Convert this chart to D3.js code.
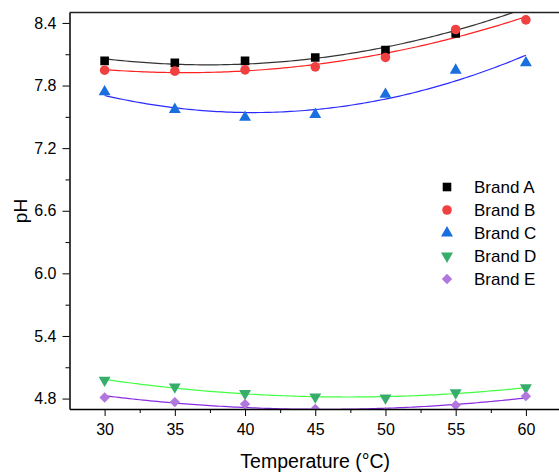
<!DOCTYPE html>
<meta charset="utf-8">
<head>
  <title>pH vs temperature</title>
  <script src="https://cdn.jsdelivr.net/npm/d3@7/dist/d3.min.js"></script>
  <style>
    body { margin: 0; background: #fff; }
    svg { display: block; font-family: "Liberation Sans", Arial, sans-serif; }
    .axis path, .axis line { stroke: #000; }
    .axis text { font-size: 16px; fill: #000; }
    .fit { fill: none; stroke-width: 1.2px; }
  </style>
</head>
<body>
<svg width="559" height="472"></svg>
<script>
  // temperatures (°C)
  var temps = [30, 35, 40, 45, 50, 55, 60];
  // pH readings per brand
  var brandA = [8.036, 8.017, 8.036, 8.069, 8.139, 8.299, 8.57];
  var brandB = [7.947, 7.938, 7.95, 7.979, 8.069, 8.337, 8.429];
  var brandC = [7.74, 7.571, 7.495, 7.523, 7.715, 7.947, 8.017];
  var brandD = [4.976, 4.912, 4.848, 4.816, 4.807, 4.855, 4.905];
  var brandE = [4.81, 4.766, 4.747, 4.70, 4.67, 4.737, 4.823];
  var xTicks = [30, 35, 40, 45, 50, 55, 60];
  var yTicks = [4.8, 5.4, 6.0, 6.6, 7.2, 7.8, 8.4];

  var series = [
    { name: "Brand A", values: brandA, color: "#000000", line: "#333333", shape: d3.symbolSquare, size: 74 },
    { name: "Brand B", values: brandB, color: "#f14040", line: "#ff2020", shape: d3.symbolCircle, size: 72 },
    { name: "Brand C", values: brandC, color: "#1a6fdf", line: "#2a2aff", shape: d3.symbolTriangle, size: 62 },
    { name: "Brand D", values: brandD, color: "#37ad6b", line: "#40ff40", shape: d3.symbolTriangle, size: 62, rot: 180 },
    { name: "Brand E", values: brandE, color: "#b177de", line: "#8a2be2", shape: d3.symbolSquare, size: 54, rot: 45 }
  ];

  var svg = d3.select("svg");
  var pLeft = 69.5, pRight = 561, pTop = 12.5, pBottom = 409;

  var x = d3.scaleLinear().domain([27.5, 62.5]).range([pLeft, pRight]);
  var y = d3.scaleLinear().domain([4.7, 8.5]).range([pBottom, pTop]);

  svg.append("clipPath").attr("id", "plot")
    .append("rect").attr("x", pLeft).attr("y", pTop)
    .attr("width", pRight - pLeft).attr("height", pBottom - pTop);

  // quadratic least squares fit
  function quadFit(xs, ys) {
    var s = [0, 0, 0, 0, 0], t = [0, 0, 0];
    xs.forEach(function(xv, i) {
      for (var k = 0; k < 5; k++) s[k] += Math.pow(xv, k);
      for (var k = 0; k < 3; k++) t[k] += Math.pow(xv, k) * ys[i];
    });
    var m = [[s[0], s[1], s[2], t[0]], [s[1], s[2], s[3], t[1]], [s[2], s[3], s[4], t[2]]];
    for (var i = 0; i < 3; i++) {
      for (var j = i + 1; j < 3; j++) {
        var f = m[j][i] / m[i][i];
        for (var k = i; k < 4; k++) m[j][k] -= f * m[i][k];
      }
    }
    var c = [0, 0, 0];
    for (var i = 2; i >= 0; i--) {
      var v = m[i][3];
      for (var k = i + 1; k < 3; k++) v -= m[i][k] * c[k];
      c[i] = v / m[i][i];
    }
    return function(xv) { return c[0] + c[1] * xv + c[2] * xv * xv; };
  }

  var plot = svg.append("g").attr("clip-path", "url(#plot)");
  var line = d3.line().x(function(d) { return x(d[0]); }).y(function(d) { return y(d[1]); });
  var xs = d3.range(30, 60.01, 0.25);

  series.forEach(function(s) {
    var f = quadFit(temps, s.values);
    plot.append("path").attr("class", "fit")
      .attr("stroke", s.line)
      .attr("d", line(xs.map(function(v) { return [v, f(v)]; })));
  });

  series.forEach(function(s) {
    plot.selectAll(null).data(s.values).enter().append("path")
      .attr("d", d3.symbol().type(s.shape).size(s.size))
      .attr("fill", s.color)
      .attr("transform", function(d, i) {
        return "translate(" + x(temps[i]) + "," + y(d) + ")" + (s.rot ? " rotate(" + s.rot + ")" : "");
      });
  });

  // axes
  svg.append("g").attr("class", "axis")
    .attr("transform", "translate(0," + pBottom + ")")
    .call(d3.axisBottom(x).tickValues(xTicks).tickSize(7).tickPadding(8).tickSizeOuter(0));
  svg.append("g").attr("class", "axis")
    .attr("transform", "translate(0," + pBottom + ")")
    .call(d3.axisBottom(x).tickValues(d3.range(32.5, 60, 5)).tickSize(4).tickFormat("").tickSizeOuter(0))
    .select(".domain").remove();

  svg.append("g").attr("class", "axis")
    .attr("transform", "translate(" + pLeft + ",0)")
    .call(d3.axisLeft(y).tickValues(yTicks).tickSize(7).tickPadding(6).tickSizeOuter(0)
      .tickFormat(d3.format(".1f")));
  svg.append("g").attr("class", "axis")
    .attr("transform", "translate(" + pLeft + ",0)")
    .call(d3.axisLeft(y).tickValues(d3.range(5.1, 8.4, 0.6)).tickSize(4).tickFormat("").tickSizeOuter(0))
    .select(".domain").remove();

  svg.selectAll(".axis .domain").attr("stroke-width", 1.5);

  // top frame
  svg.append("line").attr("x1", pLeft).attr("x2", 559).attr("y1", pTop).attr("y2", pTop)
    .attr("stroke", "#222").attr("stroke-width", 1.5);

  // axis titles
  svg.append("text").attr("x", (pLeft + pRight) / 2).attr("y", 468)
    .attr("text-anchor", "middle").attr("font-size", 19.5).text("Temperature (°C)");
  svg.append("text").attr("transform", "translate(27,211) rotate(-90)")
    .attr("text-anchor", "middle").attr("font-size", 19).text("pH");

  // legend
  var legend = svg.append("g").selectAll("g").data(series).enter().append("g")
    .attr("transform", function(d, i) { return "translate(447," + (187 + i * 23) + ")"; });
  legend.append("path")
    .attr("d", function(d) { return d3.symbol().type(d.shape).size(d.size)(); })
    .attr("fill", function(d) { return d.color; })
    .attr("transform", function(d) { return d.rot ? "rotate(" + d.rot + ")" : null; });
  legend.append("text").attr("x", 27).attr("dy", "0.36em")
    .attr("font-size", 17).text(function(d) { return d.name; });
</script>
</body>
